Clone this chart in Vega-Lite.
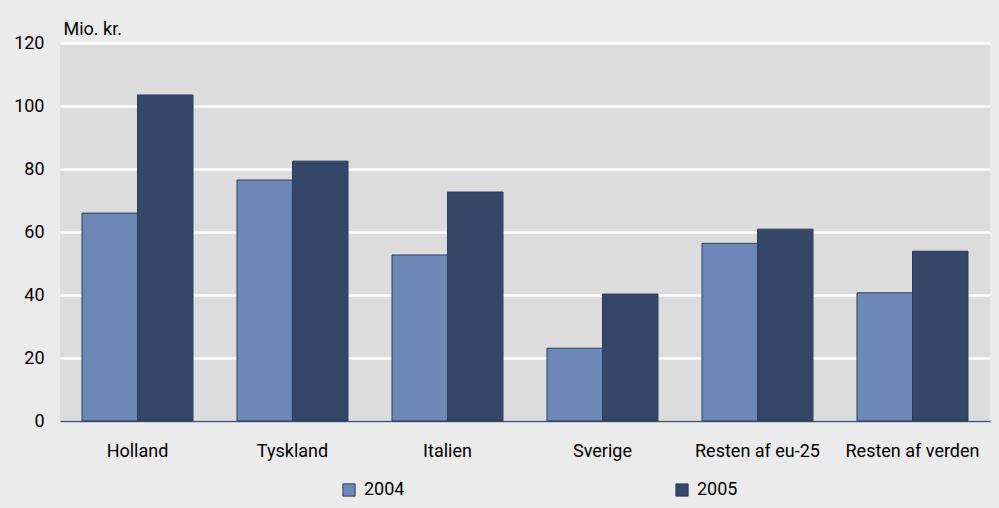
{
  "$schema": "https://vega.github.io/schema/vega-lite/v6.json",
  "autosize": "none",
  "width": 930,
  "height": 378,
  "padding": {"left": 60, "top": 43, "right": 9, "bottom": 87},
  "background": "#ebebeb",
  "data": {
    "values": [
      {"land": "Holland", "aar": "2004", "vaerdi": 66},
      {"land": "Holland", "aar": "2005", "vaerdi": 103.5},
      {"land": "Tyskland", "aar": "2004", "vaerdi": 76.5},
      {"land": "Tyskland", "aar": "2005", "vaerdi": 82.5},
      {"land": "Italien", "aar": "2004", "vaerdi": 52.7},
      {"land": "Italien", "aar": "2005", "vaerdi": 72.7},
      {"land": "Sverige", "aar": "2004", "vaerdi": 23.1},
      {"land": "Sverige", "aar": "2005", "vaerdi": 40.3},
      {"land": "Resten af eu-25", "aar": "2004", "vaerdi": 56.4},
      {"land": "Resten af eu-25", "aar": "2005", "vaerdi": 60.9},
      {"land": "Resten af verden", "aar": "2004", "vaerdi": 40.7},
      {"land": "Resten af verden", "aar": "2005", "vaerdi": 53.9}
    ]
  },
  "mark": {"type": "bar", "stroke": "#2c3c5c", "strokeWidth": 1},
  "encoding": {
    "x": {
      "field": "land",
      "type": "nominal",
      "sort": null,
      "scale": {"paddingInner": 0.284, "paddingOuter": 0.142},
      "axis": {
        "title": null,
        "labelAngle": 0,
        "ticks": false,
        "domain": true,
        "domainColor": "#3e4f70",
        "domainWidth": 1.5,
        "labelPadding": 21,
        "labelFontSize": 18,
        "labelFont": "Roboto",
        "labelColor": "#000000",
        "grid": false
      }
    },
    "xOffset": {"field": "aar", "type": "nominal"},
    "y": {
      "field": "vaerdi",
      "type": "quantitative",
      "scale": {"domain": [0, 120], "nice": false},
      "axis": {
        "values": [0, 20, 40, 60, 80, 100, 120],
        "title": "Mio. kr.",
        "titleAngle": 0,
        "titleAlign": "left",
        "titleX": 3,
        "titleY": -9,
        "titleBaseline": "alphabetic",
        "titleFont": "Roboto",
        "titleFontSize": 18,
        "titleFontWeight": "normal",
        "titleColor": "#000000",
        "labelFont": "Roboto",
        "labelFontSize": 18,
        "labelColor": "#000000",
        "labelPadding": 16,
        "ticks": false,
        "domain": false,
        "grid": true,
        "gridColor": "#ffffff",
        "gridWidth": 2.5
      }
    },
    "color": {
      "field": "aar",
      "type": "nominal",
      "scale": {"domain": ["2004", "2005"], "range": ["#6d88b6", "#344769"]},
      "legend": {
        "title": null,
        "orient": "none",
        "direction": "horizontal",
        "legendX": 280,
        "legendY": 438,
        "columns": 2,
        "columnPadding": 268,
        "symbolType": "square",
        "symbolSize": 150,
        "symbolStrokeColor": "#2c3c5c",
        "symbolStrokeWidth": 1,
        "labelFont": "Roboto",
        "labelFontSize": 18,
        "labelColor": "#000000",
        "labelOffset": 6
      }
    }
  },
  "config": {
    "view": {"fill": "#dcdcdc", "stroke": null}
  }
}
